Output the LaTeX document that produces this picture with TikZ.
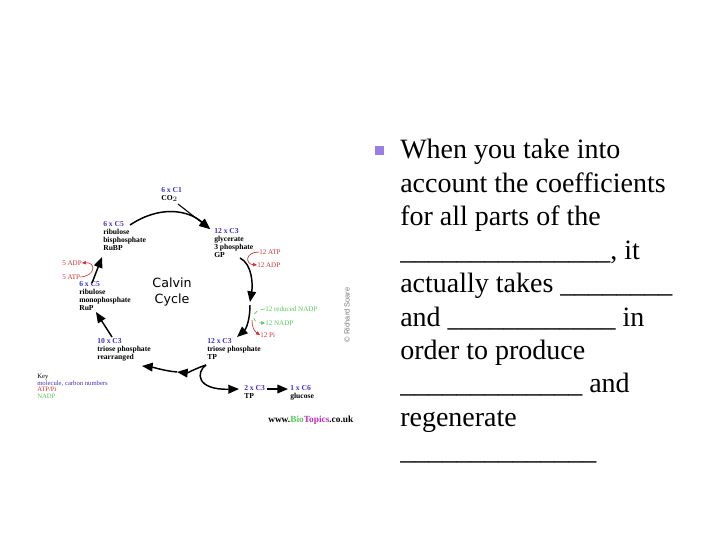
\documentclass[tikz,border=0pt]{standalone}
\usepackage{fontspec}
\setmainfont{Liberation Serif}
\newfontfamily\cyclefont{DejaVu Sans}
\newfontfamily\creditfont{Liberation Sans}
\usetikzlibrary{arrows.meta}
\definecolor{molblue}{RGB}{60,50,200}
\definecolor{atpred}{RGB}{210,50,50}
\definecolor{nadpgreen}{RGB}{90,200,90}
\definecolor{topicspink}{RGB}{200,40,200}
\definecolor{bulletlilac}{RGB}{155,125,230}
\tikzset{
  mol/.style={align=left,inner sep=0pt,anchor=north west,font=\fontsize{5.7}{6}\selectfont\bfseries},
  tag/.style={inner sep=0pt,anchor=west,font=\fontsize{5.3}{6}\selectfont},
  cyc/.style={line width=1.1pt,-{Triangle[length=8pt,width=6.5pt]}},
  side/.style={line width=0.5pt,-{Triangle[length=3pt,width=2.6pt]}}
}
\begin{document}
\begin{tikzpicture}[x=0.75pt,y=-0.75pt]
  \useasboundingbox (0,0) rectangle (720,540);
  % cycle labels
  \node[mol] (co2) at (161,187) {\textcolor{molblue}{6 x C1}\\CO$_2$};
  \node[mol] (gp) at (214,228) {\textcolor{molblue}{12 x C3}\\glycerate\\3 phosphate\\GP};
  \node[mol] (rubp) at (103,221) {\textcolor{molblue}{6 x C5}\\ribulose\\bisphosphate\\RuBP};
  \node[mol] (rup) at (79,281) {\textcolor{molblue}{6 x C5}\\ribulose\\monophosphate\\RuP};
  \node[mol] (tp) at (207,338) {\textcolor{molblue}{12 x C3}\\triose phosphate\\TP};
  \node[mol] (tpr) at (97,338) {\textcolor{molblue}{10 x C3}\\triose phosphate\\rearranged};
  \node[mol] (tptwo) at (244,385) {\textcolor{molblue}{2 x C3}\\TP};
  \node[mol] (glc) at (290,385) {\textcolor{molblue}{1 x C6}\\glucose};
  \node[align=center,inner sep=0pt,font=\cyclefont\fontsize{9.5}{11.5}\selectfont] (calvin) at (172,292) {Calvin\\Cycle};
  % side products
  \node[tag,atpred] (atpa) at (259,252) {12 ATP};
  \node[tag,atpred] (adpa) at (257,265) {12 ADP};
  \node[tag,nadpgreen] (nadph) at (265,309) {12 reduced NADP};
  \node[tag,nadpgreen] (nadp) at (265,323) {12 NADP};
  \node[tag,atpred] (pi) at (260,335) {12 Pi};
  \node[tag,atpred] (adpb) at (62,263) {5 ADP};
  \node[tag,atpred] (atpb) at (62,277) {5 ATP};
  % key and credits
  \node[align=left,inner sep=0pt,anchor=north west,font=\fontsize{5}{4.9}\selectfont] (key) at (37,374)
    {Key\\\textcolor{molblue}{molecule, carbon numbers}\\\textcolor{atpred}{ATP/Pi}\\\textcolor{nadpgreen}{NADP}};
  \node[inner sep=0pt,anchor=west,font=\fontsize{7}{8}\selectfont\bfseries] (web) at (268,420)
    {www.\textcolor{nadpgreen}{Bio}\textcolor{topicspink}{Topics}.co.uk};
  \node[inner sep=0pt,rotate=90,text=black!55,font=\creditfont\fontsize{5.5}{6}\selectfont] (credit) at (347,315) {\textcopyright{} Richard Soare};
  % connector ends
  \coordinate (co2out) at (178,204);
  \coordinate (gpin) at (210,229);
  \coordinate (rubpout) at (130,225);
  \coordinate (gpout) at (240,258);
  \coordinate (redin) at (250,302);
  \coordinate (redout) at (250,305);
  \coordinate (tpin) at (237,337);
  \coordinate (split) at (206,365);
  \coordinate (turn) at (177,372);
  \coordinate (tprin) at (142,366);
  \coordinate (tptwoin) at (239,389);
  \coordinate (tptwoout) at (267,389);
  \coordinate (glcin) at (288,389);
  \coordinate (tprout) at (112,337);
  \coordinate (rupin) at (96,312);
  \coordinate (rupout) at (92,283);
  \coordinate (rubpin) at (102,257);
  % cycle arrows
  \draw[cyc] (rubpout) .. controls (160,205) and (188,210) .. (gpin);
  \draw[line width=0.8pt,-{Triangle[length=8pt,width=6.5pt]}] (co2out) -- (gpin);
  \draw[cyc] (gpout) .. controls (252,264) and (253,284) .. (redin);
  \draw[cyc] (redout) .. controls (250,320) and (246,329) .. (tpin);
  \draw[cyc] (split) .. controls (197,368) and (187,373) .. (turn);
  \draw[cyc] (turn) .. controls (165,371) and (152,367) .. (tprin);
  \draw[cyc] (split) .. controls (196,372) and (196,390) .. (tptwoin);
  \draw[cyc] (tptwoout) -- (glcin);
  \draw[cyc] (tprout) -- (rupin);
  \draw[cyc] (rupout) -- (rubpin);
  % side arrows
  \draw[side,atpred] (atpb.east) .. controls (96,276) and (96,262) .. (adpb.east);
  \draw[side,atpred] (atpa.west) .. controls (245,252) and (245,264) .. (adpa.west);
  \draw[side,nadpgreen,dashed] (nadph.west) .. controls (250,310) and (251,323) .. (nadp.west);
  \draw[side,atpred] (252,320) .. controls (252,327) and (254,331) .. (pi.west);
  % slide text
  \node[fill=bulletlilac,inner sep=0pt,minimum size=6.6pt] (bullet) at (379.5,150.5) {};
  \node[align=left,inner sep=0pt,anchor=north west,font=\fontsize{21}{25.1}\selectfont] (note) at (400,139)
    {When you take into\\
     account the coefficients\\
     for all parts of the\\
     \_\_\_\_\_\_\_\_\_\_\_\_\_\_\_, it\\
     actually takes \_\_\_\_\_\_\_\_\\
     and \_\_\_\_\_\_\_\_\_\_\_\_ in\\
     order to produce\\
     \_\_\_\_\_\_\_\_\_\_\_\_\_ and\\
     regenerate\\
     \_\_\_\_\_\_\_\_\_\_\_\_\_\_};
\end{tikzpicture}
\end{document}
